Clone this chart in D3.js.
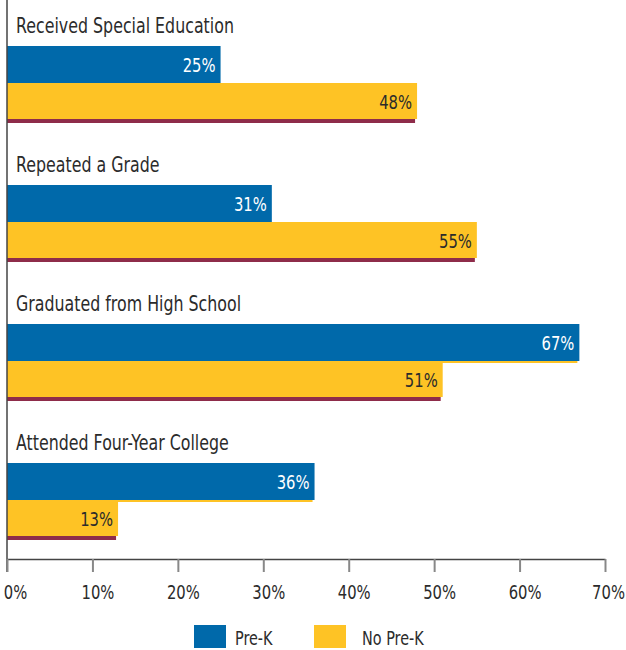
<!DOCTYPE html>
<html>
<head>
<meta charset="utf-8">
<script src="https://cdn.jsdelivr.net/npm/d3@7/dist/d3.min.js"></script>
<style>
	body { margin: 0; background: #fff; }
	svg text { font-family: "DejaVu Sans", sans-serif; }
</style>
</head>
<body>
<div id="chart"></div>
<script>
(function () {

	'use strict';

	// data
	let categories = ['Received Special Education', 'Repeated a Grade', 'Graduated from High School', 'Attended Four-Year College'];
	let series = ['Pre-K', 'No Pre-K'];
	let preK = [25, 31, 67, 36];
	let noPreK = [48, 55, 51, 13];
	let ticks = [0, 10, 20, 30, 40, 50, 60, 70];

	let colors = { 'Pre-K': '#0069aa', 'No Pre-K': '#fec325' };
	let underline = { 'Pre-K': '#fec325', 'No Pre-K': '#8e2c4a' };

	let width = 626, height = 650;
	let barH = 37;

	// place a text at (x, y) and squeeze it horizontally (fake condensed face)
	function condensed(sel, fx, fy, k) {
		sel.attr('transform', function (d, i) {
			return 'translate(' + fx(d, i) + ',' + fy(d, i) + ') scale(' + k + ',1)';
		});
	}

	let svg = d3.select('#chart').append('svg')
		.attr('width', width)
		.attr('height', height);

	let x = d3.scaleLinear().domain([0, 70]).range([7, 605]);

	// each group: title above, then two bars
	let y = d3.scaleBand().domain(categories).range([46, 46 + 139 * 4]);
	let ySub = d3.scaleBand().domain(series).range([0, barH * 2]);

	let rows = categories.map(function (c, i) {
		return { name: c, values: [{ key: 'Pre-K', v: preK[i] }, { key: 'No Pre-K', v: noPreK[i] }] };
	});

	let g = svg.selectAll('g.group')
		.data(rows)
		.enter().append('g')
		.attr('class', 'group')
		.attr('transform', function (d) { return 'translate(0,' + y(d.name) + ')'; });

	g.append('text')
		.attr('font-size', 22)
		.attr('fill', '#2b2b2b')
		.call(condensed, function () { return 16; }, function () { return -13; }, 0.72)
		.text(function (d) { return d.name; });

	let bar = g.selectAll('g.bar')
		.data(function (d) { return d.values; })
		.enter().append('g')
		.attr('class', 'bar');

	// thin line under each bar
	bar.append('rect')
		.attr('x', x(0))
		.attr('y', function (d) { return ySub(d.key) + ySub.bandwidth() - 1; })
		.attr('width', function (d) { return x(d.v) - x(0) - 2; })
		.attr('height', function (d) { return d.key === 'Pre-K' ? 3 : 4; })
		.attr('fill', function (d) { return underline[d.key]; });

	bar.append('rect')
		.attr('x', x(0))
		.attr('y', function (d) { return ySub(d.key); })
		.attr('width', function (d) { return x(d.v) - x(0); })
		.attr('height', function (d) { return ySub.bandwidth() - (d.key === 'Pre-K' ? 0 : 1); })
		.attr('fill', function (d) { return colors[d.key]; });

	// draw yellow bars over the blue underline
	g.selectAll('g.bar').filter(function (d) { return d.key === 'No Pre-K'; }).raise();

	bar.append('text')
		.attr('text-anchor', 'end')
		.attr('font-size', 20)
		.attr('fill', function (d) { return d.key === 'Pre-K' ? '#fff' : '#2b2b2b'; })
		.call(condensed,
			function (d) { return x(d.v) - 5; },
			function (d) { return ySub(d.key) + ySub.bandwidth() / 2 + 7; }, 0.74)
		.text(function (d) { return d.v + '%'; });

	// vertical axis line
	svg.append('line')
		.attr('x1', x(0)).attr('x2', x(0))
		.attr('y1', 0).attr('y2', 572)
		.attr('stroke', '#444')
		.attr('stroke-width', 1.5);

	// bottom axis
	let axis = svg.append('g')
		.attr('transform', 'translate(0,559)')
		.call(d3.axisBottom(x).tickValues(ticks).tickSize(13).tickSizeOuter(0)
			.tickFormat(function (d) { return d + '%'; }));

	axis.select('.domain').attr('stroke', '#444').attr('stroke-width', 1.5);
	axis.selectAll('.tick line').attr('stroke', '#888').attr('stroke-width', 2);
	axis.selectAll('.tick text')
		.attr('font-size', 20)
		.attr('fill', '#2b2b2b')
		.attr('font-family', null)
		.attr('y', null)
		.attr('dy', null)
		.call(condensed,
			function (d) { return d === 0 ? 8 : (d === 70 ? 3 : 5); },
			function () { return 40; }, 0.74);

	// legend
	let legendX = [194, 314];
	let legend = svg.selectAll('g.legend')
		.data(series)
		.enter().append('g')
		.attr('class', 'legend')
		.attr('transform', function (d, i) { return 'translate(' + legendX[i] + ',625)'; });

	legend.append('rect')
		.attr('width', 32)
		.attr('height', 23)
		.attr('fill', function (d) { return colors[d]; });

	legend.append('text')
		.attr('font-size', 20)
		.attr('fill', '#2b2b2b')
		.call(condensed,
			function (d, i) { return i === 0 ? 41 : 48; },
			function () { return 20; }, 0.72)
		.text(function (d) { return d; });

})();
</script>
</body>
</html>
